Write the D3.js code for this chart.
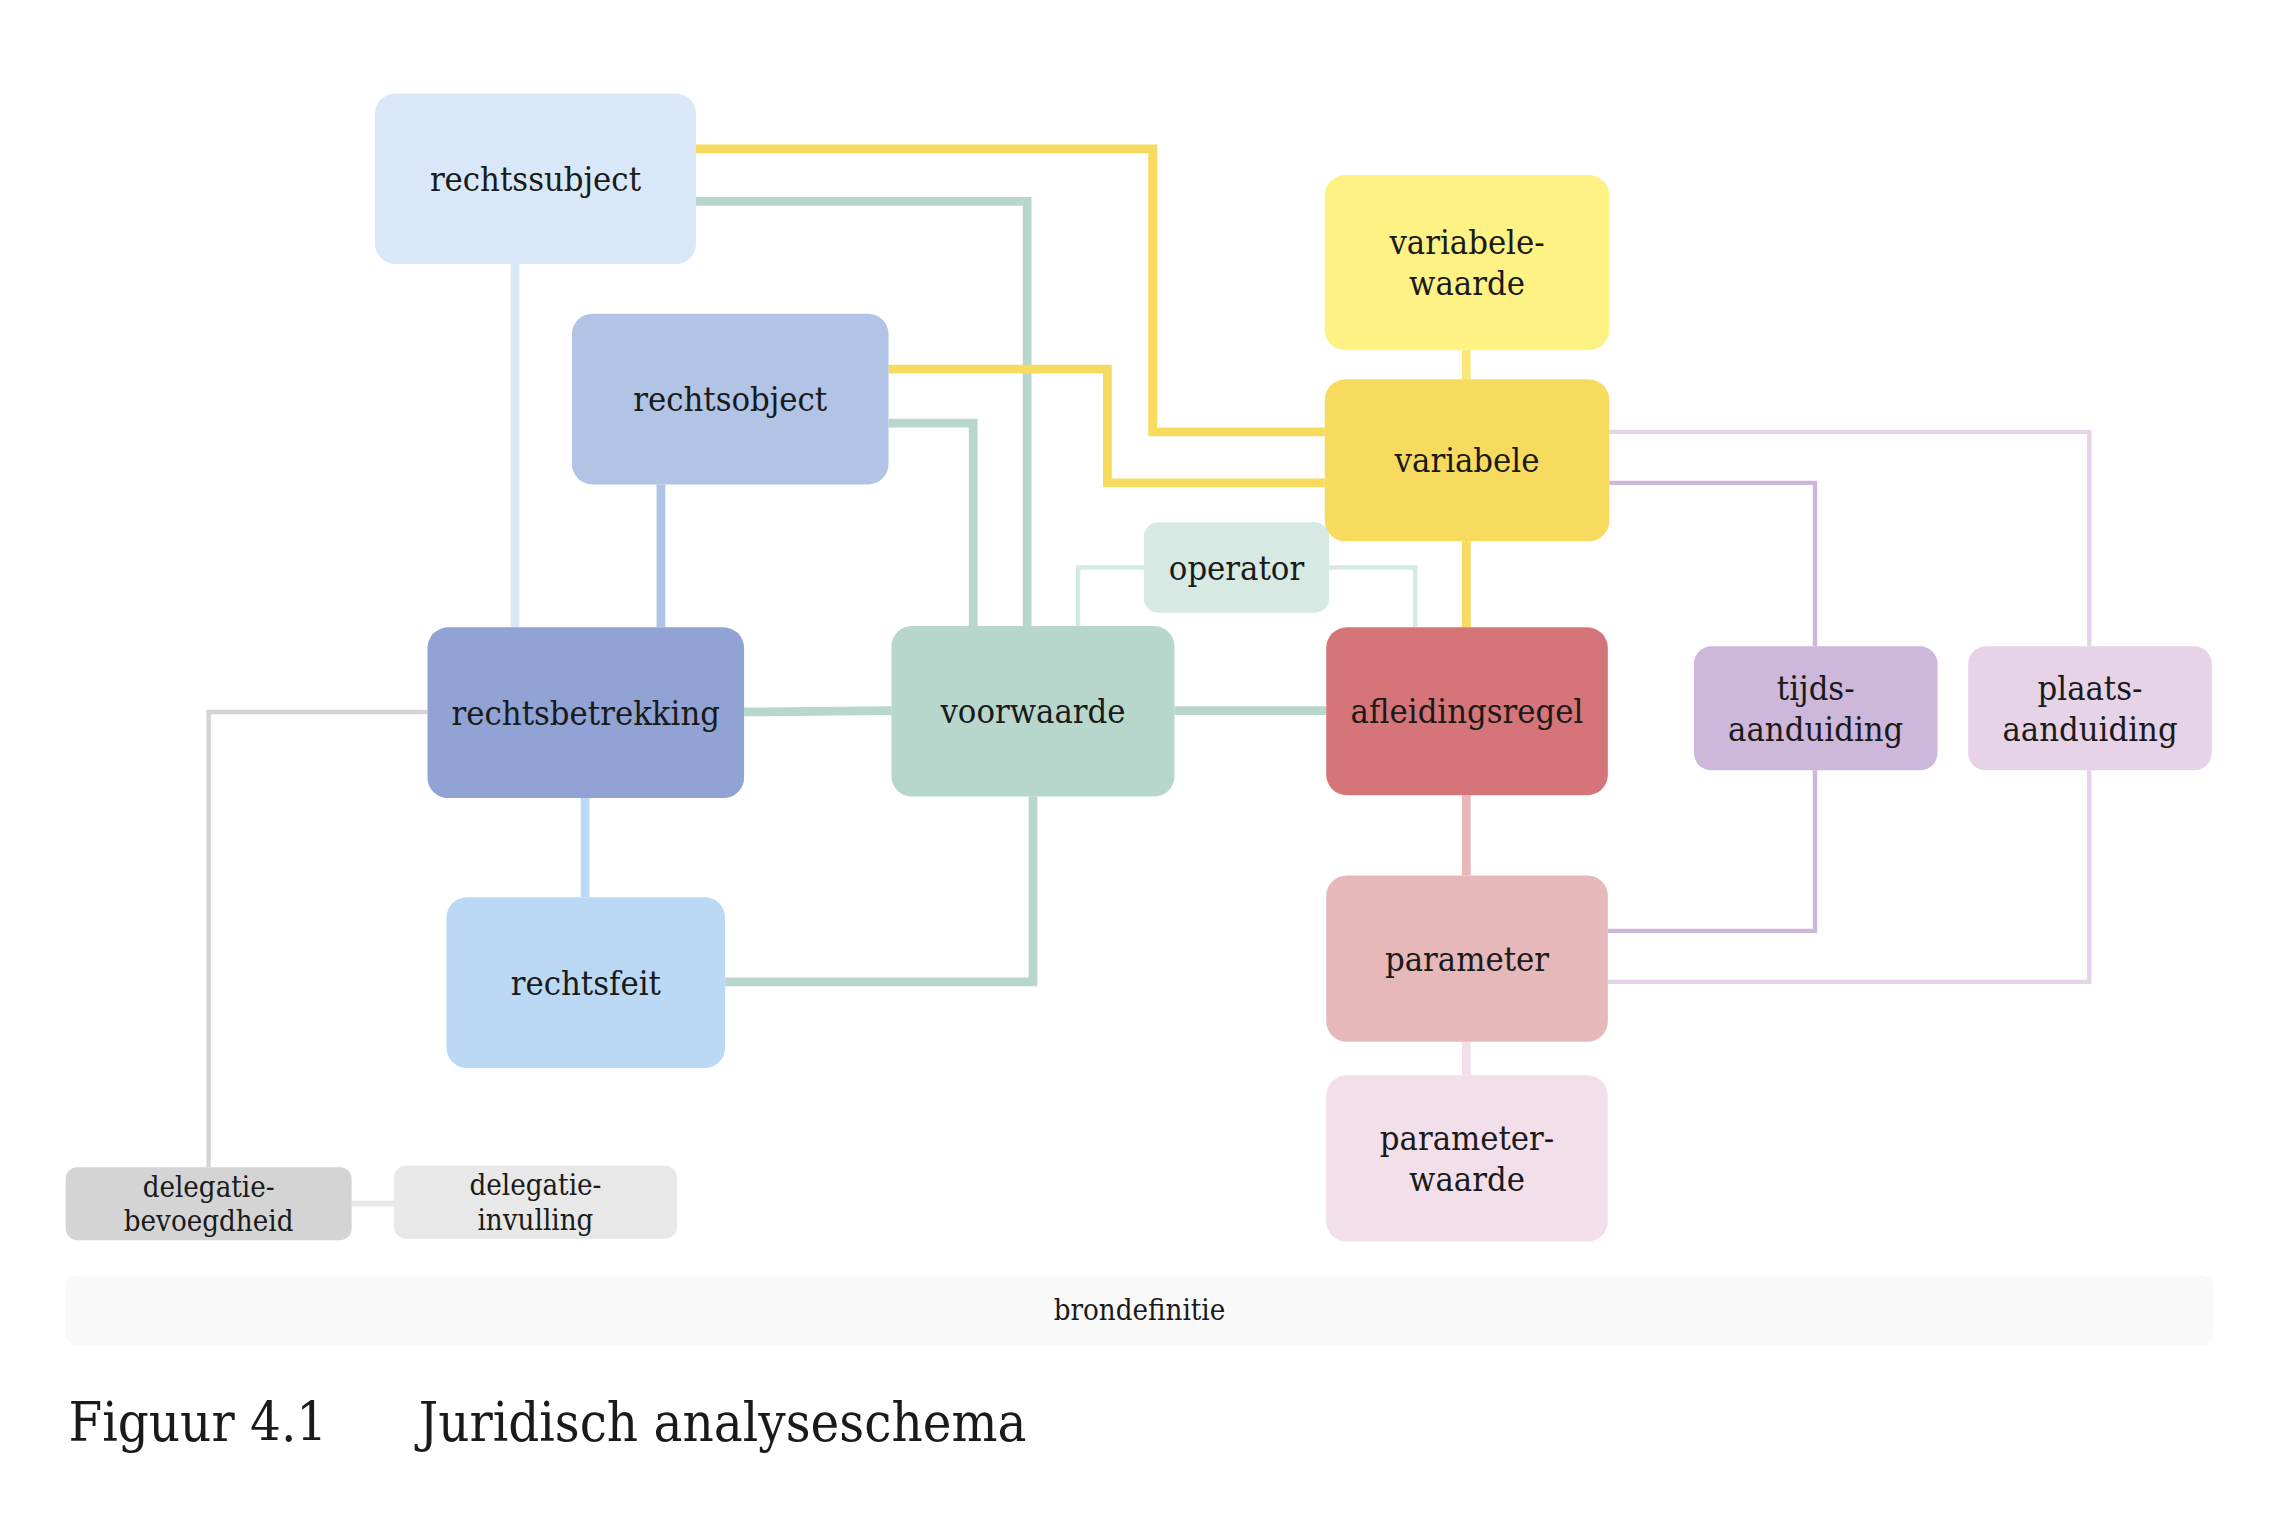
<!DOCTYPE html>
<html><head><meta charset="utf-8">
<script src="https://cdn.jsdelivr.net/npm/d3@7"></script>
<style>body{margin:0;background:#fff}text{font-family:"DejaVu Serif Condensed","DejaVu Serif",serif;font-stretch:condensed;fill:#1a1a1a}</style>
</head><body>
<svg id="c" width="2288" height="1538"></svg>
<script>
// nodes: [name, label lines, x0, y0, x1, y1, fill, radius, fontsize]
const nodes = [
 ["rechtssubject",["rechtssubject"],257,64,477,181,"#d8e8f8",14,23.5],
 ["rechtsobject",["rechtsobject"],392,215,609,332,"#b1c4e6",14,23.5],
 ["variabelewaarde",["variabele-","waarde"],908,120,1103,240,"#fdf283",14,23.5],
 ["variabele",["variabele"],908,260,1103,371,"#f7db5f",14,23.5],
 ["operator",["operator"],784,358,911,420,"#d6e9e3",10,23.5],
 ["rechtsbetrekking",["rechtsbetrekking"],293,430,510,547,"#90a3d4",14,23.5],
 ["voorwaarde",["voorwaarde"],611,429,805,546,"#b7d7cc",14,23.5],
 ["afleidingsregel",["afleidingsregel"],909,430,1102,545,"#d57479",14,23.5],
 ["tijds",["tijds-","aanduiding"],1161,443,1328,528,"#cdb8db",12,23.5],
 ["plaats",["plaats-","aanduiding"],1349,443,1516,528,"#e7d3e7",12,23.5],
 ["rechtsfeit",["rechtsfeit"],306,615,497,732,"#bbd9f4",14,23.5],
 ["parameter",["parameter"],909,600,1102,714,"#e7b8ba",14,23.5],
 ["parameterwaarde",["parameter-","waarde"],909,737,1102,851,"#f3dfea",14,23.5],
 ["delbev",["delegatie-","bevoegdheid"],45,800,241,850,"#d4d4d4",8,20],
 ["delinv",["delegatie-","invulling"],270,799,464,849,"#e8e8e8",8,20],
 ["bron",["brondefinitie"],45,874,1517,922,"#f9f9f9",8,20]
];
// edges: [points, color, width]
const edges = [
 [[[477,102],[790,102],[790,296],[908,296]],"#f7db5f",6],
 [[[477,138],[704,138],[704,429]],"#b7d7cc",6],
 [[[609,253],[759,253],[759,331],[908,331]],"#f7db5f",6],
 [[[609,290],[667,290],[667,429]],"#b7d7cc",6],
 [[[353,181],[353,430]],"#d8e8f8",6],
 [[[453,332],[453,430]],"#b1c4e6",6],
 [[[1005,240],[1005,260]],"#fae77a",6],
 [[[1005,371],[1005,430]],"#f7db5f",6],
 [[[784,389],[739,389],[739,429]],"#d6e9e3",3],
 [[[911,389],[970,389],[970,430]],"#d6e9e3",3],
 [[[510,488],[611,487]],"#b7d7cc",6],
 [[[805,487],[909,487]],"#b7d7cc",6],
 [[[401,547],[401,615]],"#bbd9f4",6],
 [[[708,546],[708,673],[497,673]],"#b7d7cc",6],
 [[[293,488],[143,488],[143,800]],"#d4d4d4",3],
 [[[241,825],[270,825]],"#e8e8e8",4],
 [[[1103,331],[1244,331],[1244,443]],"#cdb8db",3],
 [[[1103,296],[1432,296],[1432,443]],"#e7d3e7",3],
 [[[1005,545],[1005,600]],"#e7b8ba",6],
 [[[1102,638],[1244,638],[1244,528]],"#cdb8db",3],
 [[[1102,673],[1432,673],[1432,528]],"#e7d3e7",3],
 [[[1005,714],[1005,737]],"#f3dfea",6]
];
const captionNum = "Figuur 4.1", captionText = "Juridisch analyseschema";

const k = 1.459;
const sx = d3.scaleLinear().domain([0,1568]).range([0,1568*k]);
const sy = d3.scaleLinear().domain([0,1054]).range([0,1054*k]);
const svg = d3.select("#c");
const line = d3.line().x(d=>sx(d[0])).y(d=>sy(d[1]));
svg.selectAll("path.e").data(edges).join("path").attr("class","e")
 .attr("d",d=>line(d[0])).attr("fill","none").attr("stroke",d=>d[1]).attr("stroke-width",d=>d[2]*k);
const g = svg.selectAll("g.n").data(nodes).join("g").attr("class","n");
g.append("rect").attr("x",d=>sx(d[2])).attr("y",d=>sy(d[3]))
 .attr("width",d=>sx(d[4])-sx(d[2])).attr("height",d=>sy(d[5])-sy(d[3]))
 .attr("rx",d=>d[7]*k).attr("fill",d=>d[6]);
g.each(function(d){
  const cx = sx((d[2]+d[4])/2), cy = sy((d[3]+d[5])/2);
  const fs = d[8]*k, lh = fs*1.18, n = d[1].length;
  const t = d3.select(this).append("text").attr("text-anchor","middle").attr("font-size",fs);
  d[1].forEach((s,i)=>t.append("tspan").attr("x",cx).attr("y",cy+(i-(n-1)/2)*lh).attr("dy","0.35em").text(s));
});
svg.append("text").attr("x",sx(47)).attr("y",sy(988)).attr("font-size",37*k).text(captionNum);
svg.append("text").attr("x",sx(287)).attr("y",sy(988)).attr("font-size",37*k).text(captionText);
</script></body></html>
